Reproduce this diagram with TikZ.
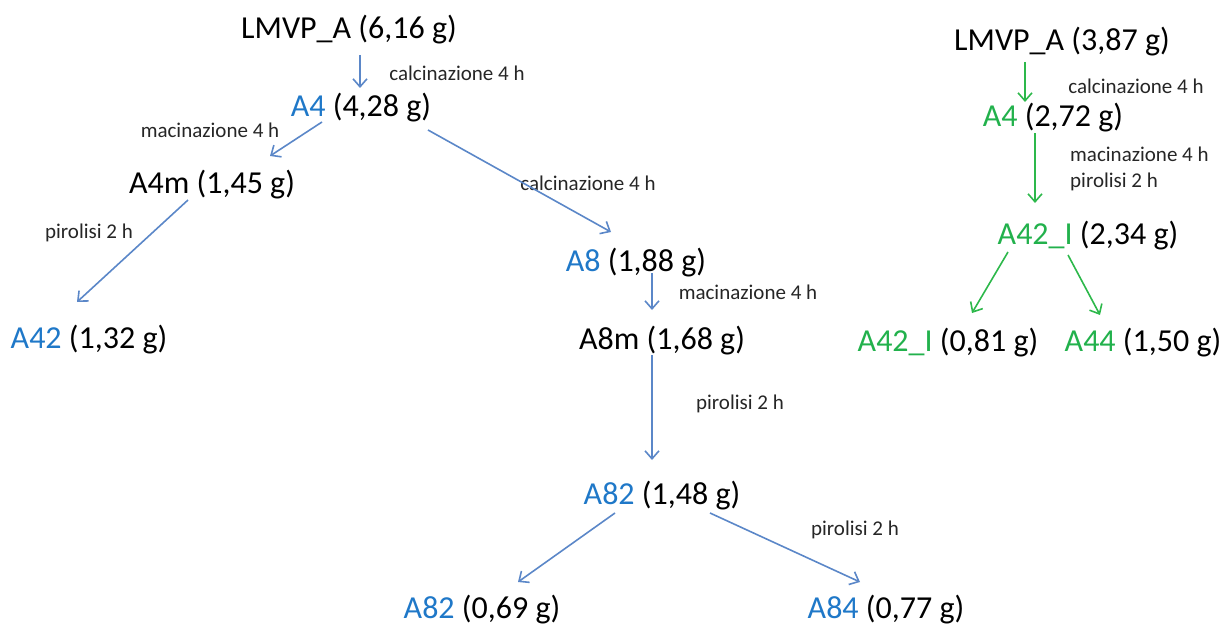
\documentclass[tikz,border=0pt]{standalone}
\usepackage{fontspec}
\setmainfont{Carlito}
\usetikzlibrary{arrows.meta,calc}
\definecolor{tblue}{HTML}{1F78C8}
\definecolor{ablue}{HTML}{5B87C8}
\definecolor{tgreen}{HTML}{22B14C}
\definecolor{agreen}{HTML}{2DB84B}
\tikzset{
  big/.style={inner sep=0pt,font=\fontsize{32}{38}\selectfont,text=black},
  lbl/.style={inner sep=0pt,font=\fontsize{21}{25}\selectfont,text=black!85},
  arrb/.style={draw=ablue,line width=1.6pt,-{Straight Barb[length=8pt,width=14pt,line width=1.6pt]}},
  arrg/.style={draw=agreen,line width=1.6pt,-{Straight Barb[length=8pt,width=14pt,line width=1.6pt]}},
}
\newcommand{\bl}[1]{\textcolor{tblue}{#1}}
\newcommand{\gr}[1]{\textcolor{tgreen}{#1}}
\begin{document}
\begin{tikzpicture}[x=1pt,y=-1pt]
\useasboundingbox (0,0) rectangle (1224,626);
% left tree
\node[big] (l1) at (349,30) {LMVP\_A (6,16 g)};
\node[lbl] (t1) at (457,73) {calcinazione 4 h};
\node[big] (a4) at (361,108) {\bl{A4} (4,28 g)};
\node[lbl] (t2) at (210,130) {macinazione 4 h};
\node[big] (a4m) at (212,185) {A4m (1,45 g)};
\node[lbl] (t3) at (588,183) {calcinazione 4 h};
\node[lbl] (t4) at (89,233) {pirolisi 2 h};
\node[big] (a8) at (636,263) {\bl{A8} (1,88 g)};
\node[lbl] (t5) at (748,292) {macinazione 4 h};
\node[big] (a42) at (89,340) {\bl{A42} (1,32 g)};
\node[big] (a8m) at (662,341) {A8m (1,68 g)};
\node[lbl] (t6) at (740,404) {pirolisi 2 h};
\node[big] (a82) at (662,496) {\bl{A82} (1,48 g)};
\node[lbl] (t7) at (855,530) {pirolisi 2 h};
\node[big] (a82b) at (482,610) {\bl{A82} (0,69 g)};
\node[big] (a84) at (886,610) {\bl{A84} (0,77 g)};
% right tree
\node[big] (r1) at (1062,42) {LMVP\_A (3,87 g)};
\node[lbl] (s1) at (1136,86) {calcinazione 4 h};
\node[big] (ra4) at (1053,118) {\gr{A4} (2,72 g)};
\node[lbl,anchor=north west,align=left,font=\fontsize{21}{26}\selectfont] (s2) at (1070,147) {macinazione 4 h\\pirolisi 2 h};
\node[big] (ra42) at (1088,236) {\gr{A42\_I} (2,34 g)};
\node[big] (ra42b) at (948,343) {\gr{A42\_I} (0,81 g)};
\node[big] (ra44) at (1143,343) {\gr{A44} (1,50 g)};
% left arrows
\draw[arrb] ([shift={(11,25)}]l1.center) -- ([shift={(-1,-20)}]a4.center);
\draw[arrb] ([shift={(-39,14)}]a4.center) -- ([shift={(58,-29)}]a4m.center);
\draw[arrb] ([shift={(67,22)}]a4.center) -- ([shift={(-25,-31)}]a8.center);
\draw[arrb] ([shift={(-24,15)}]a4m.center) -- ([shift={(-12,-38)}]a42.center);
\draw[arrb] ([shift={(16,10)}]a8.center) -- ([shift={(-10,-31)}]a8m.center);
\draw[arrb] ([shift={(-10,14)}]a8m.center) -- ([shift={(-10,-36)}]a82.center);
\draw[arrb] ([shift={(-47,17)}]a82.center) -- ([shift={(36,-28)}]a82b.center);
\draw[arrb] ([shift={(48,17)}]a82.center) -- ([shift={(-26,-28)}]a84.center);
% right arrows
\draw[arrg] ([shift={(-37,20)}]r1.center) -- ([shift={(-28,-16)}]ra4.center);
\draw[arrg] ([shift={(-18,15)}]ra4.center) -- ([shift={(-53,-33)}]ra42.center);
\draw[arrg] ([shift={(-80,16)}]ra42.center) -- ([shift={(24,-30)}]ra42b.center);
\draw[arrg] ([shift={(-20,19)}]ra42.center) -- ([shift={(-43,-28)}]ra44.center);
\end{tikzpicture}
\end{document}
